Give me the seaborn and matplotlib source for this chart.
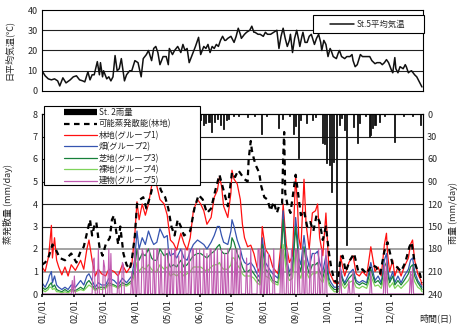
import numpy as np
import pandas as pd
import matplotlib
matplotlib.use("Agg")
import matplotlib.pyplot as plt
from matplotlib.lines import Line2D
from matplotlib.patches import Rectangle
import seaborn as sns

# ---- data (day of year, 0 = 01/01) ----
month_day = [0, 31, 59, 90, 120, 151, 181, 212, 243, 273, 304, 334]
month_lbl = ["01/01", "02/01", "03/01", "04/01", "05/01", "06/01",
             "07/01", "08/01", "09/01", "10/01", "11/01", "12/01"]

# St.5 daily mean air temperature
temp_day = [0, 3, 6, 9, 12, 15, 17, 20, 23, 27, 30, 33, 36, 39, 41, 44, 46, 48, 50, 53,
            55, 56, 58, 59, 62, 64, 66, 68, 70, 72, 74, 76, 79, 81, 84, 86, 89, 92, 95, 97,
            100, 102, 105, 107, 109, 111, 113, 116, 119, 121, 122, 125, 127, 130, 133, 135, 137, 139, 141, 144,
            147, 150, 152, 155, 157, 159, 161, 163, 165, 167, 169, 171, 173, 175, 176, 178, 181, 184, 186, 188,
            190, 191, 194, 196, 199, 201, 203, 204, 207, 209, 212, 214, 216, 219, 222, 225, 227, 229, 231, 233,
            235, 237, 238, 240, 242, 244, 246, 247, 249, 250, 252, 254, 256, 258, 261, 263, 265, 267, 268, 270,
            272, 274, 276, 277, 279, 282, 284, 285, 287, 290, 292, 295, 297, 298, 300, 302, 305, 307, 309, 312,
            314, 316, 319, 321, 324, 326, 328, 330, 332, 335, 336, 338, 339, 341, 343, 346, 348, 349, 351, 352,
            354, 357, 359, 361, 362, 364]
temp_c = [10, 7.5, 6, 5.5, 6, 5, 2.5, 6.5, 4, 5.5, 7, 7.5, 5.5, 5, 4.5, 9.5, 5.5, 8, 8, 14.5,
          8, 14, 7, 10, 6, 7, 5, 7, 17.5, 10, 11, 16, 5, 8, 10, 10, 15, 14, 7, 16,
          18, 20, 15, 21, 22, 19, 13, 17, 17, 13, 21, 18, 20, 22, 19, 23, 20, 21, 14, 18,
          22, 26.5, 18, 22, 21, 23, 19, 22, 21, 23, 22, 25, 27, 25, 25, 26, 27, 24, 27, 31,
          28, 26, 28, 29, 30, 32, 29, 29, 28, 28, 27, 29, 28, 28, 29, 30, 21, 27, 31, 26,
          22, 25, 28, 19, 26, 30, 25, 22, 27, 29, 24, 24, 27, 28, 23, 26, 28, 24, 20, 25,
          23, 17, 21, 20, 17, 16, 19, 20, 17, 16, 17, 17, 18, 15, 12, 13, 18, 17, 17, 17,
          17, 15, 13.5, 14, 14, 13, 14, 15.5, 14, 10, 9, 16.5, 11, 9, 12, 11, 13, 12, 9, 9.5,
          10, 8, 7, 5, 4, 2]

# St.2 rainfall (mm/day)
rain_day = [152, 155, 157, 160, 162, 165, 168, 171, 174, 177, 179, 183, 188, 197, 204, 210, 215, 227, 230, 237,
            241, 243, 246, 248, 253, 259, 262, 269, 271, 273, 275, 277, 279, 282, 285, 287, 290, 292, 298, 302,
            304, 310, 314, 315, 317, 319, 323, 328, 338, 346, 355, 363]
rain_mm = [8, 14, 12, 10, 24, 10, 6, 14, 20, 8, 6, 3, 2, 4, 2, 26, 3, 19, 6, 3,
           26, 16, 59, 8, 12, 8, 4, 39, 40, 65, 68, 104, 64, 237, 14, 5, 21, 175, 17, 39,
           12, 3, 30, 28, 19, 14, 10, 3, 37, 3, 2, 15]

# potential evapotranspiration (forest)
pet_day = [0, 3, 6, 10, 13, 17, 22, 28, 33, 37, 40, 44, 46, 48, 50, 52, 55, 58, 61, 65,
           67, 69, 71, 73, 75, 78, 81, 84, 86, 89, 91, 94, 97, 100, 104, 107, 110, 114, 118, 121,
           124, 127, 130, 133, 136, 139, 142, 146, 150, 154, 158, 162, 166, 170, 174, 178, 182, 185, 188, 191,
           194, 197, 198, 200, 201, 203, 205, 208, 210, 213, 216, 219, 222, 225, 227, 230, 231, 232, 233, 235,
           238, 241, 243, 245, 248, 251, 254, 257, 260, 263, 266, 269, 272, 275, 277, 280, 283, 286, 288, 291,
           295, 299, 303, 307, 311, 316, 320, 324, 328, 331, 333, 336, 340, 344, 348, 352, 354, 357, 360, 362, 364]
pet_mm = [1.3, 1.4, 1.6, 2.2, 2.0, 1.6, 1.5, 1.8, 1.4, 1.9, 2.1, 2.9, 3.3, 2.6, 3.0, 3.2, 2.1, 1.7, 2.2, 2.5,
          3.3, 3.5, 2.8, 2.2, 3.0, 1.8, 1.3, 1.1, 1.5, 2.6, 4.0, 4.2, 4.3, 3.8, 4.4, 5.0, 5.2, 4.6, 4.3, 3.8,
          3.0, 2.6, 3.3, 3.0, 2.6, 2.7, 2.8, 3.8, 4.4, 4.2, 3.6, 3.8, 4.6, 5.3, 4.6, 3.9, 5.4, 5.2, 5.5, 5.3,
          5.1, 5.0, 6.0, 6.8, 6.4, 6.0, 5.7, 5.4, 4.8, 4.3, 4.2, 3.7, 4.1, 3.6, 3.9, 4.0, 6.0, 7.2, 4.5, 4.0,
          3.6, 4.6, 5.3, 4.6, 3.5, 3.7, 3.0, 3.2, 2.8, 3.5, 3.2, 2.4, 3.0, 1.8, 1.2, 0.6, 0.5, 1.6, 1.7, 1.0,
          1.5, 1.8, 1.0, 1.1, 0.9, 1.3, 1.2, 0.9, 1.9, 2.3, 1.9, 1.3, 1.2, 1.0, 1.4, 2.1, 2.3, 1.4, 1.0, 0.9, 0.5]

# actual evapotranspiration by land-use group (shared sample days)
et_day = [0, 3, 6, 7, 9, 10, 12, 14, 16, 19, 22, 25, 28, 32, 37, 40, 43, 45, 48, 51,
          54, 57, 61, 64, 69, 73, 77, 81, 86, 89, 91, 93, 96, 99, 102, 105, 107, 110, 113, 117,
          120, 121, 123, 126, 129, 133, 136, 139, 142, 145, 149, 152, 155, 158, 162, 165, 168, 170, 172, 174,
          178, 181, 182, 184, 187, 190, 192, 194, 197, 200, 203, 206, 209, 211, 214, 218, 221, 226, 229, 231,
          234, 237, 240, 243, 245, 246, 248, 251, 253, 256, 259, 262, 264, 266, 269, 272, 275, 277, 280, 283,
          285, 286, 288, 290, 294, 298, 301, 304, 307, 311, 315, 319, 322, 325, 328, 330, 331, 333, 336, 338,
          341, 344, 347, 351, 353, 355, 357, 360, 363, 364]
forest = [1.2, 1.0, 1.6, 2.0, 3.05, 1.6, 2.5, 1.5, 1.2, 0.85, 1.2, 0.8, 1.3, 1.05, 1.5, 1.1, 2.0, 2.4, 1.5, 0.8,
          1.1, 0.9, 0.8, 1.1, 1.0, 0.8, 1.3, 0.95, 1.3, 2.7, 4.1, 3.3, 4.0, 3.5, 4.0, 4.8, 5.2, 4.8, 4.2, 4.0,
          3.5, 3.1, 2.4, 2.25, 1.95, 2.7, 2.25, 1.95, 2.5, 3.7, 4.2, 4.0, 3.7, 3.1, 3.4, 4.3, 4.6, 5.2, 4.8, 3.9,
          3.4, 4.5, 5.5, 5.1, 4.9, 4.2, 3.1, 2.5, 2.1, 2.17, 1.8, 1.2, 0.9, 3.0, 2.0, 1.7, 1.2, 0.9, 2.2, 4.0,
          2.2, 1.4, 1.7, 5.3, 3.7, 2.5, 2.0, 5.1, 3.1, 2.0, 3.6, 3.7, 4.0, 2.5, 1.7, 3.6, 1.0, 0.8, 0.5, 0.45,
          0.5, 1.7, 1.2, 0.8, 1.4, 1.7, 0.9, 0.8, 1.0, 0.8, 2.1, 1.0, 1.2, 0.8, 2.2, 2.7, 1.8, 1.0, 1.5, 0.8,
          1.2, 0.8, 1.2, 1.6, 2.2, 2.4, 1.5, 0.9, 0.6, 0.4]
field = [0.5, 0.3, 0.6, 0.8, 1.0, 0.5, 0.8, 0.4, 0.3, 0.2, 0.3, 0.2, 0.4, 0.3, 0.6, 0.4, 0.8, 0.9, 0.6, 0.3,
         0.5, 0.4, 0.4, 0.7, 0.6, 0.4, 0.7, 0.5, 0.8, 1.6, 2.8, 2.0, 2.5, 2.2, 2.8, 2.4, 2.2, 2.3, 2.9, 2.5,
         2.6, 2.0, 1.7, 1.8, 1.6, 2.0, 1.6, 1.5, 1.9, 2.2, 2.4, 2.3, 2.2, 2.0, 2.3, 2.6, 3.0, 3.0, 2.6, 2.3,
         2.2, 2.8, 3.3, 3.0, 2.4, 2.0, 1.6, 1.4, 1.3, 1.4, 1.2, 0.9, 0.7, 2.5, 1.4, 1.1, 0.9, 0.7, 1.8, 3.7,
         1.6, 1.0, 1.2, 3.4, 2.4, 1.6, 1.3, 2.6, 1.8, 1.2, 1.8, 1.8, 1.9, 1.4, 1.0, 1.7, 0.7, 0.5, 0.3, 0.3,
         0.35, 1.1, 0.7, 0.5, 0.9, 1.1, 0.6, 0.5, 0.6, 0.5, 1.4, 0.6, 0.8, 0.5, 1.5, 1.8, 1.2, 0.6, 1.0, 0.5,
         0.8, 0.5, 0.8, 1.1, 1.5, 1.6, 1.0, 0.6, 0.4, 0.3]
turf = [0.3, 0.2, 0.3, 0.4, 0.5, 0.3, 0.4, 0.2, 0.15, 0.1, 0.2, 0.1, 0.2, 0.15, 0.3, 0.2, 0.5, 0.6, 0.4, 0.2,
        0.3, 0.3, 0.3, 0.5, 0.4, 0.3, 0.5, 0.4, 0.6, 1.2, 2.0, 1.5, 1.8, 1.7, 2.0, 1.6, 1.5, 1.5, 2.0, 1.7,
        1.8, 1.4, 1.2, 1.3, 1.2, 1.5, 1.2, 1.3, 1.5, 1.7, 1.8, 1.8, 1.7, 1.6, 1.8, 1.9, 2.1, 2.2, 1.9, 1.8,
        1.8, 2.1, 2.5, 2.3, 1.8, 1.5, 1.2, 1.0, 1.0, 1.1, 0.9, 0.7, 0.5, 2.2, 1.1, 0.9, 0.6, 0.5, 1.5, 3.3,
        1.4, 0.8, 1.0, 3.0, 2.0, 1.3, 1.0, 2.1, 1.4, 0.9, 1.3, 1.3, 1.4, 1.0, 0.7, 1.3, 0.5, 0.35, 0.2, 0.2,
        0.25, 0.9, 0.6, 0.4, 0.7, 0.9, 0.5, 0.4, 0.5, 0.4, 1.1, 0.5, 0.6, 0.4, 1.2, 1.4, 0.9, 0.5, 0.8, 0.4,
        0.6, 0.4, 0.6, 0.9, 1.2, 1.3, 0.8, 0.5, 0.3, 0.2]
bare = [0.2, 0.1, 0.2, 0.3, 0.3, 0.2, 0.25, 0.1, 0.1, 0.05, 0.1, 0.05, 0.15, 0.1, 0.2, 0.15, 0.3, 0.4, 0.3, 0.15,
        0.25, 0.2, 0.25, 0.4, 0.35, 0.25, 0.4, 0.35, 0.5, 0.9, 1.4, 1.0, 1.2, 1.1, 1.3, 1.1, 1.0, 1.0, 1.3, 1.1,
        1.2, 1.0, 0.8, 0.9, 0.8, 1.0, 0.8, 0.9, 1.0, 1.2, 1.2, 1.2, 1.1, 1.0, 1.2, 1.3, 1.3, 1.4, 1.2, 1.1,
        1.1, 1.3, 1.6, 1.6, 1.3, 1.1, 0.9, 0.8, 0.8, 0.8, 0.7, 0.5, 0.4, 1.6, 0.8, 0.7, 0.5, 0.4, 1.1, 2.2,
        1.0, 0.6, 0.7, 2.0, 1.4, 0.9, 0.7, 1.5, 1.0, 0.7, 0.9, 0.9, 1.0, 0.7, 0.5, 1.0, 0.4, 0.25, 0.1, 0.1,
        0.15, 0.6, 0.4, 0.25, 0.5, 0.6, 0.3, 0.25, 0.35, 0.25, 0.8, 0.35, 0.4, 0.25, 0.8, 1.0, 0.6, 0.3, 0.5, 0.25,
        0.4, 0.25, 0.4, 0.6, 0.8, 0.9, 0.55, 0.3, 0.2, 0.1]

# buildings: zero except on rain-wetted days
bldg_day = [29, 31, 49, 50, 54, 59, 60, 64, 66, 73, 77, 78, 86, 89, 92, 96, 97, 100, 103, 107,
            110, 111, 114, 118, 121, 124, 127, 128, 131, 134, 137, 141, 144, 145, 148, 151, 155, 158, 161, 162,
            165, 168, 172, 175, 178, 182, 185, 187, 190, 196, 200, 207, 208, 211, 214, 217, 222, 229, 231, 235,
            239, 243, 244, 246, 250, 253, 257, 261, 265, 268, 272, 286, 294, 298, 315, 328, 330, 353, 355]
bldg_mm = [0.6, 0.8, 1.5, 1.6, 2.0, 1.5, 1.2, 2.0, 1.8, 1.0, 1.4, 1.3, 1.0, 2.0, 2.0, 2.0, 1.8, 2.0, 2.0, 2.0,
           2.0, 2.0, 1.8, 2.0, 2.0, 2.0, 2.0, 2.0, 1.7, 2.0, 2.0, 2.0, 2.0, 2.0, 2.0, 2.0, 2.0, 1.8, 2.0, 2.0,
           2.0, 2.0, 2.0, 1.8, 2.0, 2.0, 2.0, 2.0, 2.0, 1.6, 2.0, 2.0, 2.0, 2.0, 2.0, 1.8, 2.0, 2.0, 2.0, 2.0,
           2.0, 2.0, 2.0, 2.0, 2.0, 2.0, 2.0, 1.8, 2.0, 2.0, 2.0, 1.2, 0.6, 1.0, 1.0, 1.3, 1.5, 1.0, 1.2]

series_lbl = ["St. 2雨量", "可能蒸発散能(林地)", "林地(グループ1)", "畑(グループ2)",
              "芝地(グループ3)", "裸地(グループ4)", "建物(グループ5)"]
c_red, c_blue, c_green, c_lgreen, c_purple = "#ff1010", "#3554b0", "#17803a", "#7fd35a", "#c05ab0"

# ---- figure ----
sns.set_theme(style="white")
plt.rcParams["font.family"] = ["Noto Sans CJK JP", "DejaVu Sans"]
plt.rcParams["axes.edgecolor"] = "black"
plt.rcParams["axes.linewidth"] = 0.8

W, H = 461, 326
fig = plt.figure(figsize=(W / 100, H / 100), dpi=100)
L, R = 42 / W, 381 / W


def frame_box(axis, x0, y0, x1, y1):
    # legend frame given in figure pixels (top-left origin), drawn under the legend
    axis.add_patch(Rectangle((x0 / W, 1 - y1 / H), (x1 - x0) / W, (y1 - y0) / H,
                             transform=fig.transFigure, facecolor="white",
                             edgecolor="black", lw=0.8, zorder=5, clip_on=False))


# top: temperature
axt = fig.add_axes([L, 1 - 91 / H, R, 81 / H])
for v in (10, 20, 30):
    axt.axhline(v, color="#222222", lw=0.8, zorder=0)
sns.lineplot(x=temp_day, y=temp_c, ax=axt, color="#111111", lw=1.1, estimator=None, label="St.5平均気温")
axt.set_xlim(0, 365)
axt.set_ylim(0, 40)
axt.set_yticks([0, 10, 20, 30, 40])
axt.set_xticks([])
axt.tick_params(axis="y", labelsize=6.5, length=0, pad=3)
axt.set_ylabel("日平均気温(℃)", fontsize=6.5, labelpad=2)
axt.yaxis.set_label_coords(-0.075, 0.5)
frame_box(axt, 313, 15, 424, 33)
lt = axt.legend(loc="center left", bbox_to_anchor=(330 / W, 1 - 24 / H), bbox_transform=fig.transFigure,
                fontsize=6, frameon=False, handlelength=2.9, handletextpad=0.3, borderpad=0, borderaxespad=0)
lt.set_zorder(6)

# bottom: evapotranspiration + rain
ax = fig.add_axes([L, 1 - 294 / H, R, 180 / H])
for v in range(1, 8):
    gc = "#8a8a8a" if v in (1, 2) else "#222222"
    ax.axhline(v, color=gc, lw=1.1 if v in (1, 2) else 0.8, zorder=0)

days = np.arange(365)
bldg = np.zeros(365)
bldg[bldg_day] = bldg_mm

sns.lineplot(x=et_day, y=forest, ax=ax, color=c_red, lw=0.9, estimator=None)
sns.lineplot(x=et_day, y=field, ax=ax, color=c_blue, lw=0.9, estimator=None)
sns.lineplot(x=et_day, y=turf, ax=ax, color=c_green, lw=0.9, estimator=None)
sns.lineplot(x=et_day, y=bare, ax=ax, color=c_lgreen, lw=0.9, estimator=None)
sns.lineplot(x=days, y=bldg, ax=ax, color=c_purple, lw=0.8, estimator=None)
sns.lineplot(x=pet_day, y=pet_mm, ax=ax, color="black", lw=1.6, estimator=None)
ax.get_lines()[-1].set_dashes([2.5, 2])

ax.set_xlim(0, 365)
ax.set_ylim(0, 8)
ax.set_yticks(range(0, 9))
ax.set_xticks(month_day)
ax.set_xticklabels(month_lbl, rotation=90, fontsize=6.5)
ax.tick_params(axis="y", labelsize=6.5, length=0, pad=3)
ax.tick_params(axis="x", length=2, pad=2, direction="out", bottom=True)
ax.set_ylabel("蒸発散量 (mm/day)", fontsize=6.5)
ax.yaxis.set_label_coords(-0.075, 0.5)

ax2 = ax.twinx()
ax2.bar(rain_day, rain_mm, width=1.0, color="#111111", edgecolor="#111111", linewidth=0.6)
ax2.set_ylim(240, 0)
ax2.set_yticks(range(0, 241, 30))
ax2.tick_params(axis="y", labelsize=6.5, length=0, pad=3)
ax2.set_ylabel("雨量 (mm/day)", fontsize=6.5)
ax2.yaxis.set_label_coords(1.068, 0.45)
ax2.grid(False)

handles = [Line2D([], [], color="black", lw=4.5, solid_capstyle="butt"),
           Line2D([], [], color="black", lw=1.6, dashes=[2.5, 2], dash_capstyle="butt"),
           Line2D([], [], color=c_red, lw=0.9),
           Line2D([], [], color=c_blue, lw=0.9),
           Line2D([], [], color=c_green, lw=0.9),
           Line2D([], [], color=c_lgreen, lw=0.9),
           Line2D([], [], color=c_purple, lw=0.9)]
frame_box(ax2, 44, 106, 200, 185)
leg = ax2.legend(handles, series_lbl, loc="upper left", bbox_to_anchor=(64 / W, 1 - 108 / H),
                 bbox_transform=fig.transFigure, fontsize=6, frameon=False,
                 handlelength=3.9, labelspacing=0.28, borderpad=0, handletextpad=0.3, borderaxespad=0)
leg.set_zorder(6)

fig.text(436 / W, 1 - 318 / H, "時間(日)", fontsize=6.5, ha="center", va="center")

fig.savefig("out.png", dpi=100)
